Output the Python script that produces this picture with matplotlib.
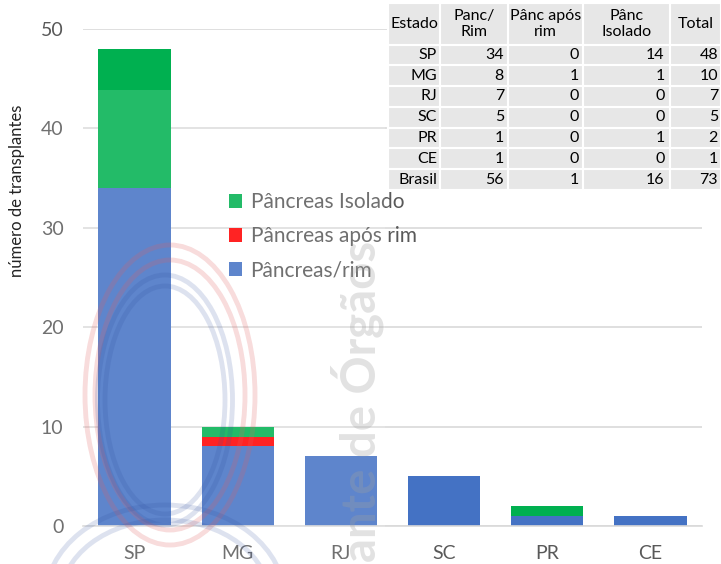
import matplotlib.pyplot as plt
import numpy as np
from matplotlib.patches import Rectangle, Ellipse

plt.rcParams['font.family'] = ['Lato', 'DejaVu Sans']

estados = ["SP", "MG", "RJ", "SC", "PR", "CE"]
panc_rim = [34, 8, 7, 5, 1, 1]
apos_rim = [0, 1, 0, 0, 0, 0]
isolado = [14, 1, 0, 0, 1, 0]

tab_cols = ["Estado", "Panc/\nRim", "Pânc após\nrim", "Pânc\nIsolado", "Total"]
tab_rows = ["SP", "MG", "RJ", "SC", "PR", "CE", "Brasil"]
tab_rim = [34, 8, 7, 5, 1, 1, 56]
tab_apos = [0, 1, 0, 0, 0, 0, 1]
tab_iso = [14, 1, 0, 0, 1, 0, 16]
tab_tot = [48, 10, 7, 5, 2, 1, 73]

W, H = 721, 564
fig = plt.figure(figsize=(W / 100, H / 100), dpi=100)
ax = fig.add_axes([83 / W, 1 - 526 / H, 619 / W, 497 / H])

x = np.arange(len(estados))
c_blue, c_red, c_green = "#4472C4", "#FF0000", "#00B050"
b1 = ax.bar(x, panc_rim, 0.7, color=c_blue, label="Pâncreas/rim", zorder=2)
b2 = ax.bar(x, apos_rim, 0.7, bottom=panc_rim, color=c_red,
            label="Pâncreas após rim", zorder=2)
bot = np.array(panc_rim) + np.array(apos_rim)
b3 = ax.bar(x, isolado, 0.7, bottom=bot, color=c_green,
            label="Pâncreas Isolado", zorder=2)

ax.set_xlim(-0.5, 5.5)
ax.set_ylim(0, 50)
ax.set_yticks([0, 10, 20, 30, 40, 50])
ax.set_xticks(x)
ax.set_xticklabels(estados)
ax.yaxis.grid(True, color="#d9d9d9", linewidth=1.2, zorder=0)
ax.set_axisbelow(True)
for s in ax.spines.values():
    s.set_visible(False)
ax.spines["bottom"].set_visible(True)
ax.spines["bottom"].set_color("#d9d9d9")
ax.spines["bottom"].set_linewidth(1.2)
ax.tick_params(axis="both", length=0, labelsize=14, labelcolor="#595959")
ax.tick_params(axis="x", pad=14)
ax.tick_params(axis="y", pad=14)
ax.set_ylabel("número de transplantes", fontsize=12)
ax.yaxis.set_label_coords(-0.094, 0.674)

leg = ax.legend([b3, b2, b1], ["Pâncreas Isolado", "Pâncreas após rim", "Pâncreas/rim"],
                loc="upper left", bbox_to_anchor=(0.205, 0.71), frameon=False,
                fontsize=15, labelspacing=0.68, handlelength=0.65,
                handleheight=0.65, handletextpad=0.4)
for t in leg.get_texts():
    t.set_color("#595959")

# watermark (logo + text) over the left part
def fx(px):
    return px / W

def fy(py):
    return 1 - py / H

fig.patches.append(Rectangle((0, 0), fx(385), fy(90), transform=fig.transFigure,
                             facecolor="white", alpha=0.14, edgecolor="none", zorder=5))
for (cx, cy, ew, eh, col, a) in [(170, 395, 170, 300, "#e06060", 0.22), (170, 395, 150, 270, "#e06060", 0.22),
                                  (165, 400, 135, 250, "#3050a0", 0.16), (165, 400, 120, 228, "#3050a0", 0.16),
                                  (165, 600, 240, 190, "#3050a0", 0.16), (165, 600, 210, 160, "#3050a0", 0.16)]:
    fig.patches.append(Ellipse((fx(cx), fy(cy)), ew / W, eh / H, transform=fig.transFigure,
                               facecolor="none", edgecolor=col, linewidth=3.5,
                               alpha=a, zorder=6))
fig.text(fx(357), fy(562), "ante de Órgãos", rotation=90, fontsize=34,
         fontweight="bold", color="#a0a0a0", alpha=0.3, ha="center", va="bottom",
         zorder=7)

# table
tax = fig.add_axes([388 / W, 1 - 190 / H, 333 / W, 187 / H])
tax.axis("off")
cells = [[tab_rows[i], str(tab_rim[i]), str(tab_apos[i]), str(tab_iso[i]), str(tab_tot[i])]
         for i in range(len(tab_rows))]
cw = np.array([52, 68, 75, 87, 51], dtype=float)
tbl = tax.table(cellText=cells, colLabels=tab_cols, cellLoc="right", colLoc="center",
                colWidths=list(cw / cw.sum()), bbox=[0, 0, 1, 1])
tbl.auto_set_font_size(False)
tbl.set_fontsize(11.5)
for (r, c), cell in tbl.get_celld().items():
    cell.set_facecolor("#e7e7e7")
    cell.set_edgecolor("white")
    cell.set_linewidth(1.5)
    cell.PAD = 0.06
    if r == 0:
        cell.set_height(2.0)
    else:
        cell.set_height(1.0)
    if c == 0:
        cell._loc = "center"

fig.savefig("out.png", dpi=100)
